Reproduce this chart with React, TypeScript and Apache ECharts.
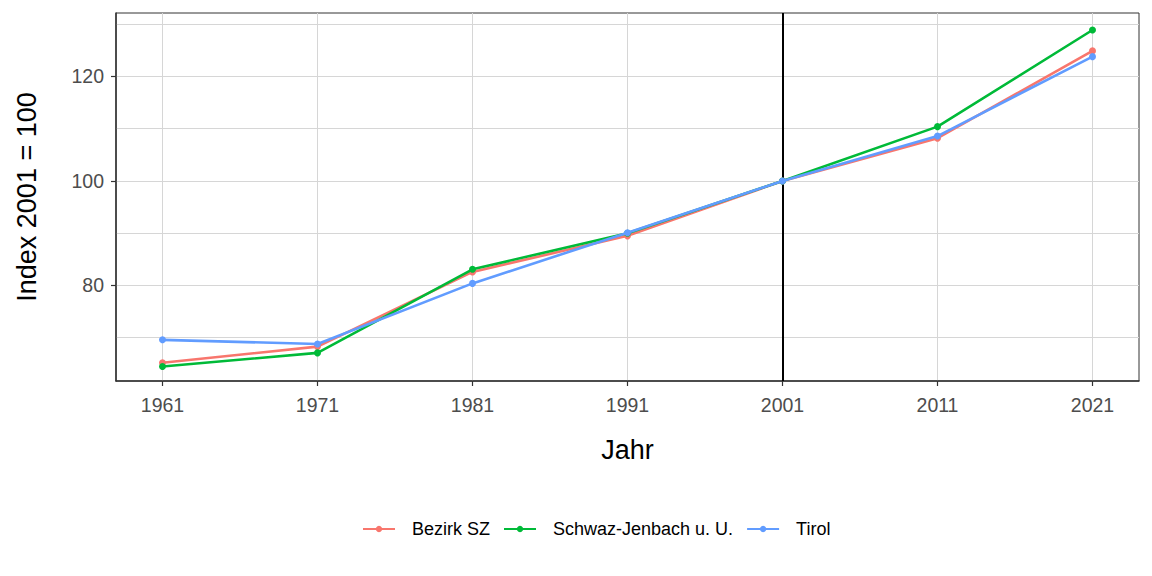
import React, { useEffect, useRef } from "react";
import * as echarts from "echarts";

const years = [1961, 1971, 1981, 1991, 2001, 2011, 2021];
const bezirkSZ = [65.2, 68.3, 82.6, 89.5, 100, 108.2, 124.9];
const schwazJenbach = [64.5, 67.1, 83.1, 90.0, 100, 110.4, 128.9];
const tirol = [69.6, 68.8, 80.4, 90.1, 100, 108.6, 123.8];
const yMajor = [80, 100, 120];
const yGrid = [70, 80, 90, 100, 110, 120, 130];
const refYear = 2001;

const seriesDefs = [
  { name: "Bezirk SZ", data: bezirkSZ, color: "#F8766D" },
  { name: "Schwaz-Jenbach u. U.", data: schwazJenbach, color: "#00BA38" },
  { name: "Tirol", data: tirol, color: "#619CFF" },
];

export default function App() {
  const ref = useRef<HTMLDivElement>(null);
  useEffect(() => {
    if (!ref.current) return;
    const chart = echarts.init(ref.current, null, { renderer: "svg" });
    const font = "Liberation Sans, Arial, sans-serif";
    const xMin = 1958;
    const xMax = 2024;
    const yMin = 61.72;
    const yMax = 132.15;
    chart.setOption({
      animation: false,
      textStyle: { fontFamily: font },
      grid: {
        left: 116,
        right: 13,
        top: 13,
        bottom: 195,
        show: true,
        borderColor: "#333333",
        borderWidth: 1,
        backgroundColor: "#ffffff",
      },
      legend: {
        bottom: 33,
        left: 357,
        itemWidth: 32,
        itemHeight: 8,
        itemGap: 13,
        textStyle: { fontSize: 18, color: "#000", fontFamily: font, padding: [0, 0, 0, 12] },
        data: seriesDefs.map((s) => s.name),
      },
      xAxis: [
        {
          type: "value",
          min: xMin,
          max: xMax,
          axisLine: { show: false },
          axisTick: { show: false, customValues: years },
          axisLabel: { show: false, customValues: years },
          splitLine: { show: true, lineStyle: { color: "#d6d6d6", width: 1 } },
        },
        {
          type: "value",
          position: "bottom",
          min: xMin,
          max: xMax,
          name: "Jahr",
          nameLocation: "middle",
          nameGap: 55,
          nameTextStyle: { fontSize: 27, color: "#000", fontFamily: font },
          axisLine: { show: true, onZero: false, lineStyle: { color: "#333333", width: 1.5 } },
          axisTick: { show: true, length: 5, customValues: years, lineStyle: { color: "#333333", width: 1.2 } },
          axisLabel: {
            show: true,
            customValues: years,
            fontSize: 19.5,
            color: "#4d4d4d",
            margin: 14,
            fontFamily: font,
            formatter: (v: number) => String(v),
          },
          splitLine: { show: false },
        },
      ],
      yAxis: [
        {
          type: "value",
          min: yMin,
          max: yMax,
          axisLine: { show: false },
          axisTick: { show: false, customValues: yGrid },
          axisLabel: { show: false, customValues: yGrid },
          splitLine: { show: true, lineStyle: { color: "#d6d6d6", width: 1 } },
        },
        {
          type: "value",
          position: "left",
          min: yMin,
          max: yMax,
          name: "Index 2001 = 100",
          nameLocation: "middle",
          nameGap: 76,
          nameTextStyle: { fontSize: 27, color: "#000", fontFamily: font },
          axisLine: { show: true, onZero: false, lineStyle: { color: "#333333", width: 1.5 } },
          axisTick: { show: true, length: 5, customValues: yMajor, lineStyle: { color: "#333333", width: 1.2 } },
          axisLabel: {
            show: true,
            customValues: yMajor,
            fontSize: 19.5,
            color: "#4d4d4d",
            margin: 12,
            fontFamily: font,
          },
          splitLine: { show: false },
        },
      ],
      series: seriesDefs.map((s, i) => ({
        name: s.name,
        type: "line",
        xAxisIndex: 0,
        yAxisIndex: 0,
        data: years.map((y, j) => [y, s.data[j]]),
        symbol: "circle",
        symbolSize: 7,
        lineStyle: { color: s.color, width: 2.6 },
        itemStyle: { color: s.color },
        z: 3 + i,
        markLine:
          i === 0
            ? {
                silent: true,
                symbol: "none",
                label: { show: false },
                lineStyle: { color: "#000", width: 2, type: "solid" },
                data: [{ xAxis: refYear }],
                z: 2,
              }
            : undefined,
      })),
    });
    return () => chart.dispose();
  }, []);
  return <div ref={ref} style={{ width: 1152, height: 576, position: "absolute", left: 0, top: 0 }} />;
}
